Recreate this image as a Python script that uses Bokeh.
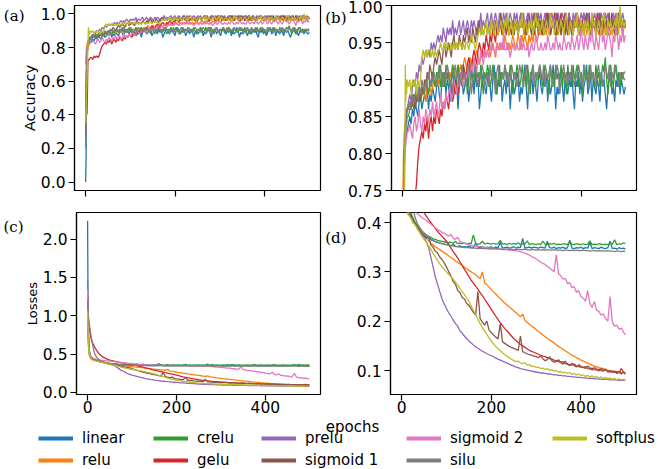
from bokeh.plotting import figure
from bokeh.layouts import column, row
from bokeh.models import (ColumnDataSource, Range1d, FixedTicker, NumeralTickFormatter,
                          PrintfTickFormatter, LinearAxis, Label, Legend, LegendItem)
from bokeh.embed import file_html
from bokeh.resources import INLINE

# ---------------- data ----------------
EPOCHS_ACC = list(range(0, 11)) + list(range(13, 500, 3))
EPOCHS_LOSS = list(range(0, 11)) + list(range(15, 500, 5)) + [499]

NAMES = ["linear", "relu", "crelu", "gelu", "prelu", "sigmoid 1", "sigmoid 2", "silu", "softplus"]
COLORS = ["#1f77b4", "#ff7f0e", "#2ca02c", "#d62728", "#9467bd", "#8c564b", "#e377c2", "#7f7f7f", "#bcbd22"]

ACC_LINEAR = [0.00, 0.17, 0.65, 0.74, 0.78, 0.80, 0.81, 0.82, 0.82, 0.83, 0.83,
    0.84, 0.85, 0.84, 0.86, 0.85, 0.87, 0.86, 0.85, 0.87, 0.88,
    0.86, 0.87, 0.88, 0.87, 0.89, 0.86, 0.88, 0.87, 0.89, 0.88,
    0.87, 0.89, 0.90, 0.88, 0.87, 0.90, 0.89, 0.91, 0.88, 0.90,
    0.89, 0.87, 0.90, 0.91, 0.89, 0.88, 0.90, 0.86, 0.89, 0.91,
    0.90, 0.88, 0.89, 0.91, 0.90, 0.87, 0.89, 0.92, 0.90, 0.88,
    0.91, 0.89, 0.90, 0.86, 0.88, 0.90, 0.91, 0.89, 0.88, 0.90,
    0.91, 0.89, 0.87, 0.90, 0.92, 0.89, 0.88, 0.90, 0.89, 0.91,
    0.87, 0.89, 0.90, 0.88, 0.91, 0.90, 0.86, 0.89, 0.90, 0.88,
    0.89, 0.91, 0.90, 0.87, 0.89, 0.88, 0.90, 0.92, 0.89, 0.86,
    0.90, 0.89, 0.91, 0.88, 0.90, 0.89, 0.87, 0.90, 0.91, 0.89,
    0.88, 0.90, 0.89, 0.91, 0.87, 0.90, 0.88, 0.89, 0.92, 0.90,
    0.86, 0.89, 0.88, 0.90, 0.91, 0.89, 0.87, 0.90, 0.89, 0.88,
    0.90, 0.89, 0.91, 0.88, 0.86, 0.90, 0.89, 0.91, 0.88, 0.90,
    0.87, 0.89, 0.90, 0.92, 0.88, 0.89, 0.91, 0.87, 0.90, 0.89,
    0.88, 0.90, 0.89, 0.87, 0.91, 0.89, 0.90, 0.88, 0.86, 0.89,
    0.90, 0.91, 0.88, 0.89, 0.87, 0.90, 0.89, 0.91, 0.88, 0.90,
    0.89, 0.88, 0.89]
ACC_RELU = [0.70, 0.76, 0.80, 0.82, 0.83, 0.84, 0.84, 0.85, 0.85, 0.86, 0.86,
    0.86, 0.87, 0.86, 0.87, 0.86, 0.87, 0.88, 0.87, 0.88, 0.87,
    0.88, 0.89, 0.88, 0.87, 0.89, 0.88, 0.89, 0.88, 0.89, 0.90,
    0.89, 0.90, 0.89, 0.90, 0.89, 0.91, 0.90, 0.89, 0.90, 0.91,
    0.90, 0.91, 0.90, 0.92, 0.91, 0.90, 0.91, 0.92, 0.91, 0.92,
    0.91, 0.92, 0.93, 0.92, 0.91, 0.92, 0.93, 0.92, 0.93, 0.92,
    0.93, 0.94, 0.93, 0.92, 0.93, 0.94, 0.93, 0.94, 0.93, 0.94,
    0.94, 0.93, 0.94, 0.95, 0.94, 0.93, 0.95, 0.94, 0.95, 0.94,
    0.95, 0.94, 0.96, 0.95, 0.94, 0.95, 0.94, 0.95, 0.96, 0.95,
    0.94, 0.95, 0.96, 0.95, 0.94, 0.96, 0.95, 0.96, 0.95, 0.94,
    0.96, 0.95, 0.96, 0.95, 0.97, 0.96, 0.95, 0.96, 0.97, 0.96,
    0.97, 0.96, 0.97, 0.96, 0.98, 0.97, 0.96, 0.97, 0.98, 0.97,
    0.96, 0.97, 0.98, 0.97, 0.96, 0.98, 0.97, 0.98, 0.97, 0.96,
    0.97, 0.98, 0.97, 0.96, 0.98, 0.97, 0.98, 0.97, 0.96, 0.97,
    0.98, 0.97, 0.98, 0.96, 0.97, 0.98, 0.97, 0.96, 0.98, 0.97,
    0.98, 0.97, 0.96, 0.97, 0.98, 0.97, 0.98, 0.96, 0.97, 0.98,
    0.97, 0.96, 0.98, 0.97, 0.98, 0.97, 0.96, 0.97, 0.98, 0.97,
    0.96, 0.97, 0.97]
ACC_CRELU = [0.25, 0.55, 0.72, 0.78, 0.80, 0.82, 0.83, 0.83, 0.84, 0.84, 0.85,
    0.85, 0.86, 0.86, 0.87, 0.86, 0.88, 0.87, 0.88, 0.89, 0.87,
    0.88, 0.89, 0.88, 0.90, 0.89, 0.88, 0.90, 0.89, 0.91, 0.90,
    0.89, 0.91, 0.90, 0.92, 0.89, 0.90, 0.91, 0.89, 0.92, 0.90,
    0.91, 0.88, 0.90, 0.92, 0.91, 0.89, 0.90, 0.92, 0.90, 0.91,
    0.89, 0.92, 0.90, 0.91, 0.88, 0.90, 0.92, 0.91, 0.89, 0.90,
    0.92, 0.90, 0.91, 0.89, 0.92, 0.90, 0.88, 0.91, 0.90, 0.92,
    0.91, 0.89, 0.90, 0.92, 0.90, 0.91, 0.88, 0.90, 0.92, 0.89,
    0.91, 0.90, 0.92, 0.91, 0.89, 0.90, 0.92, 0.90, 0.88, 0.91,
    0.90, 0.92, 0.91, 0.89, 0.90, 0.92, 0.90, 0.91, 0.89, 0.92,
    0.90, 0.88, 0.91, 0.92, 0.90, 0.89, 0.91, 0.90, 0.92, 0.91,
    0.89, 0.90, 0.92, 0.91, 0.90, 0.88, 0.92, 0.90, 0.91, 0.89,
    0.92, 0.90, 0.91, 0.90, 0.92, 0.89, 0.91, 0.90, 0.88, 0.92,
    0.90, 0.91, 0.89, 0.92, 0.90, 0.91, 0.92, 0.89, 0.90, 0.91,
    0.88, 0.92, 0.90, 0.91, 0.89, 0.92, 0.90, 0.91, 0.90, 0.89,
    0.92, 0.90, 0.91, 0.89, 0.90, 0.92, 0.91, 0.93, 0.90, 0.88,
    0.91, 0.92, 0.90, 0.89, 0.91, 0.92, 0.90, 0.91, 0.89, 0.91,
    0.90, 0.91, 0.91]
ACC_GELU = [0.35, 0.40, 0.40, 0.41, 0.55, 0.72, 0.72, 0.73, 0.73, 0.73, 0.74,
    0.74, 0.73, 0.75, 0.74, 0.75, 0.74, 0.76, 0.79, 0.81, 0.82,
    0.83, 0.82, 0.84, 0.83, 0.85, 0.82, 0.84, 0.85, 0.83, 0.85,
    0.84, 0.86, 0.85, 0.84, 0.86, 0.85, 0.87, 0.86, 0.88, 0.87,
    0.86, 0.88, 0.89, 0.87, 0.88, 0.90, 0.89, 0.88, 0.90, 0.91,
    0.90, 0.92, 0.91, 0.90, 0.92, 0.93, 0.92, 0.91, 0.93, 0.94,
    0.93, 0.92, 0.94, 0.95, 0.94, 0.93, 0.95, 0.94, 0.96, 0.95,
    0.94, 0.96, 0.95, 0.97, 0.96, 0.95, 0.97, 0.96, 0.98, 0.97,
    0.96, 0.97, 0.98, 0.96, 0.97, 0.98, 0.97, 0.96, 0.98, 0.97,
    0.98, 0.97, 0.96, 0.98, 0.99, 0.97, 0.98, 0.96, 0.97, 0.98,
    0.99, 0.97, 0.98, 0.97, 0.96, 0.98, 0.99, 0.97, 0.98, 0.97,
    0.96, 0.98, 0.97, 0.99, 0.98, 0.97, 0.96, 0.98, 0.97, 0.99,
    0.98, 0.96, 0.97, 0.98, 0.99, 0.97, 0.98, 0.96, 0.98, 0.97,
    0.99, 0.97, 0.98, 0.96, 0.98, 0.97, 0.99, 0.98, 0.97, 0.96,
    0.98, 0.99, 0.97, 0.98, 0.97, 0.99, 0.96, 0.98, 0.97, 0.98,
    0.97, 0.99, 0.98, 0.96, 0.97, 0.98, 0.99, 0.97, 0.98, 0.96,
    0.98, 0.97, 0.99, 0.98, 0.97, 0.98, 0.96, 0.99, 0.97, 0.98,
    0.97, 0.98, 0.97]
ACC_PRELU = [0.30, 0.50, 0.70, 0.76, 0.79, 0.81, 0.83, 0.84, 0.85, 0.85, 0.86,
    0.87, 0.88, 0.87, 0.89, 0.90, 0.89, 0.91, 0.90, 0.92, 0.91,
    0.93, 0.92, 0.93, 0.94, 0.93, 0.94, 0.93, 0.95, 0.94, 0.95,
    0.94, 0.95, 0.96, 0.95, 0.96, 0.95, 0.97, 0.96, 0.95, 0.97,
    0.96, 0.97, 0.96, 0.98, 0.96, 0.97, 0.96, 0.97, 0.98, 0.96,
    0.97, 0.98, 0.96, 0.97, 0.98, 0.97, 0.96, 0.98, 0.97, 0.98,
    0.97, 0.96, 0.98, 0.97, 0.99, 0.97, 0.98, 0.97, 0.98, 0.99,
    0.97, 0.98, 0.99, 0.97, 0.98, 0.99, 0.98, 0.97, 0.99, 0.98,
    0.97, 0.99, 0.98, 0.99, 0.97, 0.98, 0.99, 0.98, 0.97, 0.99,
    0.98, 0.99, 0.97, 0.98, 0.99, 0.98, 0.99, 0.97, 0.98, 0.99,
    0.98, 0.97, 0.99, 0.98, 0.99, 0.98, 0.97, 0.99, 0.98, 0.99,
    0.97, 0.98, 0.99, 0.98, 0.97, 0.99, 0.98, 0.99, 0.98, 0.97,
    0.99, 0.98, 0.99, 0.97, 0.98, 0.99, 0.98, 0.99, 0.97, 0.98,
    0.99, 0.98, 0.97, 0.99, 0.98, 0.99, 0.98, 0.97, 0.98, 0.99,
    0.98, 0.99, 0.97, 0.98, 0.99, 0.98, 0.97, 0.99, 0.98, 0.99,
    0.98, 0.97, 0.99, 0.98, 0.99, 0.98, 0.97, 0.99, 0.98, 0.99,
    0.98, 0.97, 0.98, 0.99, 0.98, 0.99, 0.97, 0.98, 0.99, 0.98,
    0.99, 0.98, 0.98]
ACC_SIGMOID1 = [0.28, 0.50, 0.70, 0.77, 0.80, 0.82, 0.84, 0.85, 0.85, 0.86, 0.86,
    0.86, 0.87, 0.86, 0.87, 0.88, 0.86, 0.87, 0.88, 0.87, 0.88,
    0.89, 0.88, 0.90, 0.89, 0.91, 0.90, 0.92, 0.91, 0.90, 0.92,
    0.93, 0.92, 0.93, 0.94, 0.93, 0.92, 0.94, 0.95, 0.93, 0.94,
    0.95, 0.94, 0.93, 0.95, 0.96, 0.94, 0.95, 0.94, 0.96, 0.95,
    0.94, 0.96, 0.95, 0.96, 0.97, 0.95, 0.96, 0.95, 0.97, 0.96,
    0.95, 0.97, 0.96, 0.98, 0.96, 0.97, 0.96, 0.97, 0.98, 0.96,
    0.97, 0.96, 0.98, 0.97, 0.96, 0.98, 0.97, 0.96, 0.97, 0.99,
    0.97, 0.96, 0.98, 0.97, 0.98, 0.96, 0.97, 0.98, 0.97, 0.96,
    0.98, 0.97, 0.96, 0.98, 0.97, 0.99, 0.97, 0.98, 0.96, 0.97,
    0.98, 0.97, 0.96, 0.98, 0.99, 0.97, 0.98, 0.96, 0.97, 0.98,
    0.97, 0.96, 0.98, 0.97, 0.99, 0.98, 0.96, 0.97, 0.98, 0.97,
    0.96, 0.99, 0.97, 0.98, 0.96, 0.98, 0.97, 0.99, 0.97, 0.96,
    0.98, 0.97, 0.96, 0.98, 0.97, 0.98, 0.99, 0.96, 0.97, 0.98,
    0.97, 0.96, 0.98, 0.99, 0.97, 0.98, 0.96, 0.97, 0.98, 0.97,
    0.96, 0.98, 0.97, 0.99, 0.97, 0.96, 0.98, 0.97, 0.98, 0.96,
    0.99, 0.97, 0.98, 0.97, 0.96, 0.98, 0.97, 0.99, 0.98, 0.97,
    0.98, 0.97, 0.98]
ACC_SIGMOID2 = [0.70, 0.72, 0.76, 0.78, 0.79, 0.80, 0.81, 0.81, 0.82, 0.82, 0.83,
    0.83, 0.84, 0.83, 0.82, 0.84, 0.85, 0.83, 0.84, 0.86, 0.84,
    0.83, 0.85, 0.84, 0.86, 0.85, 0.84, 0.86, 0.85, 0.87, 0.85,
    0.86, 0.87, 0.85, 0.86, 0.88, 0.86, 0.87, 0.86, 0.88, 0.87,
    0.88, 0.89, 0.87, 0.88, 0.90, 0.89, 0.88, 0.90, 0.89, 0.91,
    0.90, 0.89, 0.91, 0.90, 0.91, 0.92, 0.90, 0.92, 0.91, 0.93,
    0.92, 0.91, 0.93, 0.92, 0.94, 0.93, 0.92, 0.94, 0.93, 0.94,
    0.93, 0.94, 0.95, 0.94, 0.94, 0.93, 0.95, 0.94, 0.94, 0.95,
    0.94, 0.96, 0.94, 0.94, 0.95, 0.94, 0.93, 0.94, 0.95, 0.94,
    0.94, 0.95, 0.94, 0.94, 0.96, 0.94, 0.95, 0.94, 0.94, 0.95,
    0.93, 0.94, 0.95, 0.94, 0.94, 0.96, 0.95, 0.94, 0.94, 0.95,
    0.94, 0.94, 0.95, 0.94, 0.96, 0.95, 0.94, 0.94, 0.95, 0.94,
    0.96, 0.95, 0.94, 0.95, 0.94, 0.94, 0.96, 0.95, 0.94, 0.95,
    0.95, 0.94, 0.96, 0.95, 0.94, 0.95, 0.96, 0.94, 0.95, 0.97,
    0.95, 0.94, 0.96, 0.95, 0.94, 0.96, 0.95, 0.97, 0.95, 0.94,
    0.96, 0.95, 0.94, 0.96, 0.97, 0.95, 0.96, 0.94, 0.95, 0.97,
    0.96, 0.95, 0.93, 0.96, 0.95, 0.97, 0.96, 0.94, 0.96, 0.95,
    0.97, 0.95, 0.96]
ACC_SILU = [0.20, 0.45, 0.68, 0.76, 0.80, 0.82, 0.83, 0.84, 0.85, 0.85, 0.86,
    0.86, 0.87, 0.86, 0.88, 0.87, 0.88, 0.89, 0.87, 0.89, 0.88,
    0.90, 0.89, 0.88, 0.90, 0.89, 0.91, 0.90, 0.89, 0.90, 0.91,
    0.90, 0.89, 0.91, 0.90, 0.92, 0.90, 0.89, 0.91, 0.90, 0.92,
    0.91, 0.89, 0.90, 0.88, 0.91, 0.92, 0.90, 0.91, 0.89, 0.90,
    0.92, 0.90, 0.91, 0.89, 0.90, 0.92, 0.91, 0.88, 0.90, 0.91,
    0.92, 0.90, 0.89, 0.91, 0.90, 0.92, 0.91, 0.89, 0.90, 0.91,
    0.89, 0.92, 0.90, 0.91, 0.90, 0.88, 0.91, 0.92, 0.90, 0.89,
    0.91, 0.90, 0.92, 0.90, 0.91, 0.89, 0.90, 0.92, 0.91, 0.90,
    0.91, 0.89, 0.90, 0.92, 0.91, 0.90, 0.89, 0.91, 0.92, 0.90,
    0.88, 0.91, 0.90, 0.92, 0.89, 0.91, 0.90, 0.91, 0.92, 0.90,
    0.90, 0.92, 0.89, 0.91, 0.90, 0.91, 0.92, 0.90, 0.89, 0.91,
    0.90, 0.92, 0.91, 0.88, 0.90, 0.91, 0.92, 0.90, 0.91, 0.89,
    0.91, 0.90, 0.92, 0.90, 0.89, 0.91, 0.90, 0.92, 0.91, 0.90,
    0.89, 0.92, 0.91, 0.90, 0.91, 0.89, 0.92, 0.90, 0.91, 0.90,
    0.89, 0.91, 0.92, 0.90, 0.91, 0.89, 0.90, 0.92, 0.91, 0.90,
    0.92, 0.89, 0.91, 0.90, 0.92, 0.91, 0.90, 0.89, 0.91, 0.90,
    0.91, 0.90, 0.90]
ACC_SOFTPLUS = [0.35, 0.45, 0.55, 0.62, 0.70, 0.80, 0.92, 0.87, 0.90, 0.88, 0.90,
    0.89, 0.90, 0.88, 0.90, 0.89, 0.90, 0.88, 0.90, 0.89, 0.90,
    0.93, 0.94, 0.93, 0.94, 0.93, 0.94, 0.94, 0.93, 0.94, 0.93,
    0.94, 0.93, 0.94, 0.94, 0.95, 0.94, 0.94, 0.95, 0.94, 0.95,
    0.94, 0.94, 0.95, 0.94, 0.95, 0.94, 0.95, 0.94, 0.95, 0.95,
    0.94, 0.95, 0.94, 0.95, 0.95, 0.94, 0.95, 0.96, 0.95, 0.95,
    0.94, 0.95, 0.96, 0.97, 0.96, 0.97, 0.96, 0.97, 0.98, 0.96,
    0.97, 0.96, 0.98, 0.97, 0.96, 0.97, 0.98, 0.96, 0.97, 0.98,
    0.97, 0.96, 0.98, 0.97, 0.99, 0.96, 0.97, 0.98, 0.96, 0.97,
    0.98, 0.97, 0.96, 0.98, 0.97, 0.99, 0.96, 0.98, 0.97, 0.96,
    0.98, 0.97, 0.98, 0.96, 0.97, 0.99, 0.97, 0.98, 0.96, 0.97,
    0.98, 0.96, 0.97, 0.98, 0.97, 0.96, 0.99, 0.97, 0.98, 0.96,
    0.97, 0.98, 0.96, 0.97, 0.98, 0.97, 0.96, 0.98, 0.99, 0.97,
    0.96, 0.98, 0.97, 0.96, 0.98, 0.97, 0.99, 0.96, 0.97, 0.98,
    0.97, 0.96, 0.98, 0.97, 0.98, 0.96, 0.97, 0.99, 0.97, 0.98,
    0.96, 0.97, 0.98, 0.97, 0.96, 0.98, 0.99, 0.97, 0.96, 0.98,
    0.97, 0.98, 0.96, 0.97, 0.98, 0.97, 0.99, 0.96, 1.00, 0.97,
    0.98, 0.97, 0.98]

LOSS_LINEAR = [2.24, 1.20, 0.80, 0.62, 0.54, 0.50, 0.48, 0.465, 0.455, 0.448, 0.44,
    0.425, 0.415, 0.405, 0.397, 0.39, 0.384, 0.379, 0.375,
    0.371, 0.368, 0.365, 0.363, 0.361, 0.36, 0.358, 0.357, 0.356, 0.355,
    0.354, 0.353, 0.356, 0.352, 0.351, 0.353, 0.35, 0.351, 0.35, 0.352,
    0.35, 0.349, 0.358, 0.35, 0.349, 0.351, 0.348, 0.35, 0.349, 0.351,
    0.348, 0.35, 0.349, 0.36, 0.348, 0.349, 0.35, 0.348, 0.349, 0.351,
    0.348, 0.35, 0.349, 0.368, 0.348, 0.349, 0.35, 0.348, 0.35, 0.349,
    0.348, 0.35, 0.349, 0.348, 0.362, 0.349, 0.348, 0.35, 0.347, 0.349,
    0.348, 0.35, 0.347, 0.349, 0.364, 0.348, 0.347, 0.349, 0.348, 0.35,
    0.347, 0.349, 0.348, 0.36, 0.347, 0.349, 0.348, 0.347, 0.35, 0.348,
    0.347, 0.349, 0.362, 0.347, 0.348, 0.346, 0.349, 0.347, 0.348, 0.346]
LOSS_RELU = [1.00, 0.75, 0.60, 0.53, 0.49, 0.47, 0.455, 0.447, 0.44, 0.435, 0.43,
    0.42, 0.41, 0.403, 0.396, 0.39, 0.384, 0.378, 0.373,
    0.368, 0.363, 0.358, 0.355, 0.351, 0.348, 0.345, 0.342, 0.339, 0.336,
    0.332, 0.329, 0.326, 0.322, 0.319, 0.316, 0.313, 0.31, 0.306, 0.303,
    0.30, 0.297, 0.294, 0.29, 0.286, 0.30, 0.278, 0.274, 0.269, 0.264,
    0.259, 0.255, 0.25, 0.246, 0.241, 0.237, 0.233, 0.229, 0.225, 0.221,
    0.217, 0.213, 0.209, 0.214, 0.202, 0.198, 0.194, 0.19, 0.187, 0.183,
    0.179, 0.176, 0.172, 0.169, 0.165, 0.162, 0.159, 0.156, 0.152, 0.149,
    0.146, 0.143, 0.14, 0.137, 0.134, 0.131, 0.129, 0.126, 0.124, 0.121,
    0.119, 0.117, 0.115, 0.113, 0.111, 0.109, 0.108, 0.106, 0.105, 0.104,
    0.102, 0.101, 0.10, 0.099, 0.098, 0.097, 0.097, 0.096, 0.096, 0.095]
LOSS_CRELU = [1.20, 0.90, 0.70, 0.60, 0.55, 0.51, 0.49, 0.475, 0.465, 0.455, 0.45,
    0.43, 0.42, 0.41, 0.40, 0.394, 0.388, 0.383, 0.379,
    0.375, 0.372, 0.37, 0.367, 0.366, 0.364, 0.363, 0.362, 0.361, 0.36,
    0.359, 0.36, 0.358, 0.362, 0.357, 0.358, 0.357, 0.359, 0.356, 0.358,
    0.357, 0.375, 0.358, 0.356, 0.357, 0.362, 0.356, 0.358, 0.357, 0.356,
    0.358, 0.356, 0.357, 0.364, 0.356, 0.357, 0.355, 0.358, 0.356, 0.357,
    0.356, 0.359, 0.355, 0.357, 0.356, 0.363, 0.355, 0.357, 0.356, 0.355,
    0.357, 0.355, 0.362, 0.356, 0.355, 0.357, 0.356, 0.358, 0.355, 0.356,
    0.355, 0.357, 0.356, 0.355, 0.361, 0.356, 0.355, 0.357, 0.356, 0.355,
    0.357, 0.355, 0.356, 0.363, 0.355, 0.356, 0.355, 0.357, 0.356, 0.355,
    0.356, 0.355, 0.358, 0.356, 0.365, 0.355, 0.357, 0.356, 0.359, 0.357]
LOSS_GELU = [1.25, 1.05, 0.95, 0.88, 0.84, 0.80, 0.76, 0.73, 0.70, 0.68, 0.66,
    0.60, 0.55, 0.51, 0.48, 0.46, 0.445, 0.43, 0.42,
    0.413, 0.406, 0.40, 0.394, 0.388, 0.382, 0.377, 0.372, 0.367, 0.362,
    0.355, 0.348, 0.341, 0.335, 0.328, 0.32, 0.313, 0.305, 0.298, 0.29,
    0.283, 0.277, 0.271, 0.265, 0.258, 0.252, 0.245, 0.238, 0.231, 0.224,
    0.217, 0.21, 0.203, 0.197, 0.191, 0.185, 0.18, 0.175, 0.17, 0.165,
    0.161, 0.157, 0.153, 0.15, 0.147, 0.144, 0.141, 0.139, 0.137, 0.135,
    0.133, 0.131, 0.129, 0.128, 0.126, 0.124, 0.123, 0.121, 0.12, 0.118,
    0.117, 0.118, 0.114, 0.113, 0.112, 0.111, 0.113, 0.109, 0.108, 0.107,
    0.106, 0.108, 0.104, 0.103, 0.105, 0.102, 0.101, 0.103, 0.10, 0.099,
    0.101, 0.098, 0.097, 0.099, 0.096, 0.098, 0.095, 0.104, 0.097, 0.095]
LOSS_PRELU = [1.45, 0.90, 0.65, 0.55, 0.50, 0.47, 0.46, 0.45, 0.445, 0.44, 0.435,
    0.425, 0.415, 0.405, 0.397, 0.39, 0.383, 0.376, 0.37,
    0.36, 0.35, 0.33, 0.31, 0.29, 0.275, 0.26, 0.245, 0.235, 0.225,
    0.217, 0.21, 0.202, 0.195, 0.19, 0.18, 0.176, 0.17, 0.165, 0.16,
    0.156, 0.152, 0.148, 0.145, 0.142, 0.139, 0.137, 0.134, 0.132, 0.13,
    0.128, 0.125, 0.123, 0.121, 0.119, 0.117, 0.115, 0.113, 0.111, 0.109,
    0.107, 0.106, 0.104, 0.103, 0.102, 0.101, 0.10, 0.099, 0.098, 0.097,
    0.096, 0.095, 0.095, 0.094, 0.093, 0.093, 0.092, 0.091, 0.091, 0.09,
    0.09, 0.089, 0.089, 0.088, 0.088, 0.087, 0.087, 0.086, 0.086, 0.086,
    0.085, 0.085, 0.084, 0.084, 0.084, 0.083, 0.083, 0.083, 0.082, 0.082,
    0.082, 0.082, 0.081, 0.081, 0.081, 0.081, 0.08, 0.08, 0.08, 0.08]
LOSS_SIGMOID1 = [1.25, 0.95, 0.72, 0.60, 0.53, 0.49, 0.47, 0.46, 0.45, 0.445, 0.44,
    0.425, 0.415, 0.405, 0.398, 0.39, 0.384, 0.378, 0.373,
    0.368, 0.372, 0.355, 0.35, 0.342, 0.338, 0.33, 0.325, 0.318, 0.31,
    0.30, 0.292, 0.28, 0.275, 0.262, 0.258, 0.248, 0.245, 0.236, 0.232,
    0.225, 0.218, 0.212, 0.26, 0.205, 0.198, 0.192, 0.20, 0.182, 0.177,
    0.172, 0.168, 0.164, 0.195, 0.158, 0.155, 0.152, 0.149, 0.147, 0.145,
    0.143, 0.141, 0.17, 0.138, 0.136, 0.134, 0.132, 0.131, 0.129, 0.128,
    0.126, 0.13, 0.124, 0.12, 0.122, 0.128, 0.12, 0.117, 0.118, 0.122,
    0.116, 0.113, 0.119, 0.113, 0.11, 0.115, 0.11, 0.107, 0.112, 0.108,
    0.107, 0.104, 0.109, 0.105, 0.101, 0.106, 0.103, 0.099, 0.104, 0.10,
    0.103, 0.097, 0.10, 0.096, 0.099, 0.094, 0.098, 0.093, 0.097, 0.092]
LOSS_SIGMOID2 = [1.35, 1.00, 0.75, 0.60, 0.53, 0.50, 0.48, 0.47, 0.46, 0.455, 0.45,
    0.44, 0.433, 0.427, 0.422, 0.418, 0.414, 0.41, 0.407,
    0.404, 0.40, 0.397, 0.393, 0.39, 0.386, 0.383, 0.38, 0.378, 0.375,
    0.372, 0.376, 0.368, 0.366, 0.37, 0.362, 0.36, 0.358, 0.357, 0.355,
    0.354, 0.353, 0.352, 0.351, 0.352, 0.35, 0.35, 0.349, 0.348, 0.348,
    0.348, 0.347, 0.347, 0.346, 0.346, 0.345, 0.345, 0.344, 0.344, 0.343,
    0.343, 0.342, 0.341, 0.339, 0.338, 0.336, 0.334, 0.331, 0.329, 0.326,
    0.323, 0.32, 0.317, 0.315, 0.311, 0.308, 0.304, 0.30, 0.335, 0.296,
    0.292, 0.285, 0.287, 0.276, 0.278, 0.268, 0.27, 0.258, 0.262, 0.25,
    0.247, 0.24, 0.262, 0.236, 0.228, 0.24, 0.222, 0.22, 0.212, 0.215,
    0.205, 0.20, 0.25, 0.198, 0.19, 0.192, 0.184, 0.186, 0.178, 0.172]
LOSS_SILU = [1.20, 1.05, 0.98, 0.93, 0.88, 0.84, 0.80, 0.77, 0.73, 0.70, 0.66,
    0.52, 0.46, 0.43, 0.41, 0.398, 0.39, 0.383, 0.378,
    0.374, 0.37, 0.367, 0.364, 0.362, 0.36, 0.358, 0.357, 0.356, 0.355,
    0.354, 0.353, 0.352, 0.351, 0.351, 0.35, 0.35, 0.349, 0.349, 0.349,
    0.348, 0.348, 0.348, 0.347, 0.348, 0.347, 0.347, 0.347, 0.346, 0.347,
    0.346, 0.347, 0.346, 0.346, 0.345, 0.346, 0.346, 0.345, 0.346, 0.345,
    0.345, 0.346, 0.345, 0.345, 0.346, 0.345, 0.344, 0.345, 0.345, 0.344,
    0.345, 0.344, 0.345, 0.344, 0.345, 0.344, 0.344, 0.345, 0.344, 0.344,
    0.344, 0.343, 0.344, 0.344, 0.343, 0.344, 0.343, 0.344, 0.343, 0.343,
    0.344, 0.343, 0.343, 0.342, 0.343, 0.343, 0.342, 0.343, 0.342, 0.343,
    0.342, 0.343, 0.342, 0.342, 0.341, 0.342, 0.342, 0.341, 0.342, 0.341]
LOSS_SOFTPLUS = [1.07, 0.75, 0.60, 0.52, 0.48, 0.46, 0.45, 0.44, 0.435, 0.43, 0.425,
    0.415, 0.41, 0.40, 0.395, 0.387, 0.38, 0.372, 0.366,
    0.36, 0.353, 0.346, 0.338, 0.33, 0.323, 0.316, 0.31, 0.305, 0.30,
    0.295, 0.29, 0.285, 0.279, 0.273, 0.266, 0.26, 0.254, 0.247, 0.24,
    0.231, 0.222, 0.213, 0.204, 0.195, 0.187, 0.18, 0.173, 0.166, 0.16,
    0.154, 0.149, 0.144, 0.14, 0.136, 0.132, 0.129, 0.126, 0.123, 0.12,
    0.118, 0.119, 0.115, 0.114, 0.116, 0.111, 0.112, 0.108, 0.109, 0.106,
    0.107, 0.104, 0.105, 0.102, 0.104, 0.10, 0.102, 0.099, 0.10, 0.097,
    0.098, 0.095, 0.097, 0.094, 0.096, 0.092, 0.094, 0.091, 0.093, 0.09,
    0.091, 0.088, 0.09, 0.087, 0.089, 0.086, 0.088, 0.085, 0.087, 0.084,
    0.086, 0.083, 0.085, 0.082, 0.084, 0.081, 0.083, 0.081, 0.082, 0.08]

ACC = [ACC_LINEAR, ACC_RELU, ACC_CRELU, ACC_GELU, ACC_PRELU, ACC_SIGMOID1, ACC_SIGMOID2, ACC_SILU, ACC_SOFTPLUS]
LOSS = [LOSS_LINEAR, LOSS_RELU, LOSS_CRELU, LOSS_GELU, LOSS_PRELU, LOSS_SIGMOID1, LOSS_SIGMOID2, LOSS_SILU, LOSS_SOFTPLUS]
for nm, a, l in zip(NAMES, ACC, LOSS):
    assert len(a) == len(EPOCHS_ACC), (nm, "acc", len(a), len(EPOCHS_ACC))
    assert len(l) == len(EPOCHS_LOSS), (nm, "loss", len(l), len(EPOCHS_LOSS))

# ---------------- layout ----------------
FONT = "DejaVu Sans"
XR = (-24.95, 523.95)
TOP_H, BOT_H = 205, 212
LEG_H = 469 - TOP_H - BOT_H
LEFT_W, RIGHT_W = 322, 336


def style(p, yticks, yfmt, show_xlabels):
    p.grid.visible = False
    p.outline_line_color = "black"
    p.outline_line_width = 1.2
    p.background_fill_color = "white"
    p.border_fill_color = "white"
    p.xaxis.ticker = FixedTicker(ticks=[0, 200, 400])
    p.xaxis.formatter = NumeralTickFormatter(format="0")
    p.yaxis.ticker = FixedTicker(ticks=yticks)
    p.yaxis.formatter = NumeralTickFormatter(format=yfmt)
    for ax in (p.xaxis[0], p.yaxis[0]):
        ax.axis_line_color = "black"
        ax.axis_line_width = 1.2
        ax.major_tick_line_color = "black"
        ax.major_tick_line_width = 1.2
        ax.major_tick_out = 6
        ax.major_tick_in = 0
        ax.minor_tick_line_color = None
        ax.major_label_text_font = FONT
        ax.major_label_text_font_size = "15.5px"
        ax.major_label_text_color = "black"
        ax.major_label_standoff = 3
        ax.axis_label_text_font = FONT
        ax.axis_label_text_font_style = "normal"
        ax.axis_label_text_color = "black"
    if show_xlabels:
        p.xaxis.major_label_standoff = 0
    else:
        p.xaxis.major_label_text_font_size = "0px"
        p.xaxis.major_label_text_color = None
        p.xaxis.major_label_standoff = 0


def panel_tag(p, ypos, tag, standoff):
    # panel letter drawn as the single tick label of a bare outer y axis
    ax = LinearAxis(ticker=FixedTicker(ticks=[ypos]), formatter=PrintfTickFormatter(format=tag),
                    axis_line_color=None, major_tick_line_color=None, minor_tick_line_color=None,
                    major_tick_out=0, major_tick_in=0, major_label_standoff=standoff,
                    major_label_text_font="DejaVu Serif", major_label_text_font_size="15px",
                    major_label_text_color="black")
    p.add_layout(ax, "left")


def make(width, height, bl, br, bt, bb, yr):
    return figure(width=width, height=height, x_range=Range1d(*XR), y_range=Range1d(*yr),
                  output_backend="svg", toolbar_location=None,
                  min_border_left=bl, min_border_right=br, min_border_top=bt, min_border_bottom=bb)

YR_A, YR_B, YR_C, YR_D = (-0.05, 1.05), (0.75, 1.0), (-0.028, 2.348), (0.0514, 0.4203)

pa = make(LEFT_W, TOP_H, 72, 2, 5, 15, YR_A)
pb = make(RIGHT_W, TOP_H, 67, 22, 5, 15, YR_B)
pc = make(LEFT_W, BOT_H, 72, 2, 7, BOT_H - 7 - 182, YR_C)
pd = make(RIGHT_W, BOT_H, 67, 22, 7, BOT_H - 7 - 182, YR_D)

style(pa, [0, 0.2, 0.4, 0.6, 0.8, 1.0], "0.0", False)
style(pb, [0.75, 0.8, 0.85, 0.9, 0.95, 1.0], "0.00", False)
style(pc, [0, 0.5, 1.0, 1.5, 2.0], "0.0", True)
style(pd, [0.1, 0.2, 0.3, 0.4], "0.0", True)

pa.yaxis.axis_label = "Accuracy"
pa.yaxis.axis_label_text_font_size = "14.5px"
pa.yaxis.axis_label_standoff = 0
pc.yaxis.axis_label = "Losses"
pc.yaxis.axis_label_text_font_size = "13px"
pc.yaxis.axis_label_standoff = 0

panel_tag(pa, 0.99, "(a)", -6)
panel_tag(pb, 0.983, "(b)", -2)
panel_tag(pc, 2.165, "(c)", -2)
panel_tag(pd, 0.368, "(d)", 7)

for name, col, acc, loss in zip(NAMES, COLORS, ACC, LOSS):
    src_a = ColumnDataSource(dict(epoch=EPOCHS_ACC, value=acc))
    src_l = ColumnDataSource(dict(epoch=EPOCHS_LOSS, value=loss))
    for p in (pa, pb):
        p.line("epoch", "value", source=src_a, line_color=col, line_width=1.3)
    for p in (pc, pd):
        p.line("epoch", "value", source=src_l, line_color=col, line_width=1.3)

# ---------------- legend strip (x-label + legend) ----------------
pl = figure(width=658, height=LEG_H, x_range=Range1d(0, 658), y_range=Range1d(0, LEG_H),
            output_backend="svg", toolbar_location=None, min_border=0,
            x_axis_location=None, y_axis_location=None)
pl.grid.visible = False
pl.outline_line_color = None
pl.background_fill_color = "white"
pl.border_fill_color = "white"
# off-range stand-ins that only carry the legend swatch styles
rends = [pl.line(x=[-50, -40], y=[-50, -40], line_color=c, line_width=4) for c in COLORS]

top = TOP_H + BOT_H
pl.add_layout(Label(x=352, y=LEG_H - (426 - top), text="epochs", text_font=FONT,
                    text_font_size="15px", text_align="center", text_baseline="middle",
                    text_color="black"))

COL_X = [38, 153, 261, 406, 552]
ROW1_Y, PITCH, ITEM_H = 438, 22, 18
for ci, cx in enumerate(COL_X):
    idx = [i for i in (2 * ci, 2 * ci + 1) if i < len(NAMES)]
    items = [LegendItem(label=NAMES[i], renderers=[rends[i]]) for i in idx]
    bottom_px = ROW1_Y - ITEM_H / 2 + (len(idx) - 1) * PITCH + ITEM_H
    leg = Legend(items=items, location=(cx, LEG_H - (bottom_px - top)), orientation="vertical",
                 glyph_width=35, glyph_height=ITEM_H, label_height=ITEM_H, label_standoff=9,
                 spacing=PITCH - ITEM_H, padding=0, margin=0, border_line_color=None,
                 background_fill_alpha=0, label_text_font=FONT,
                 label_text_font_size="15px", label_text_color="black")
    pl.add_layout(leg)

layout = column(row(pa, pb), row(pc, pd), pl)
open("out.html", "w").write(file_html(layout, INLINE))
